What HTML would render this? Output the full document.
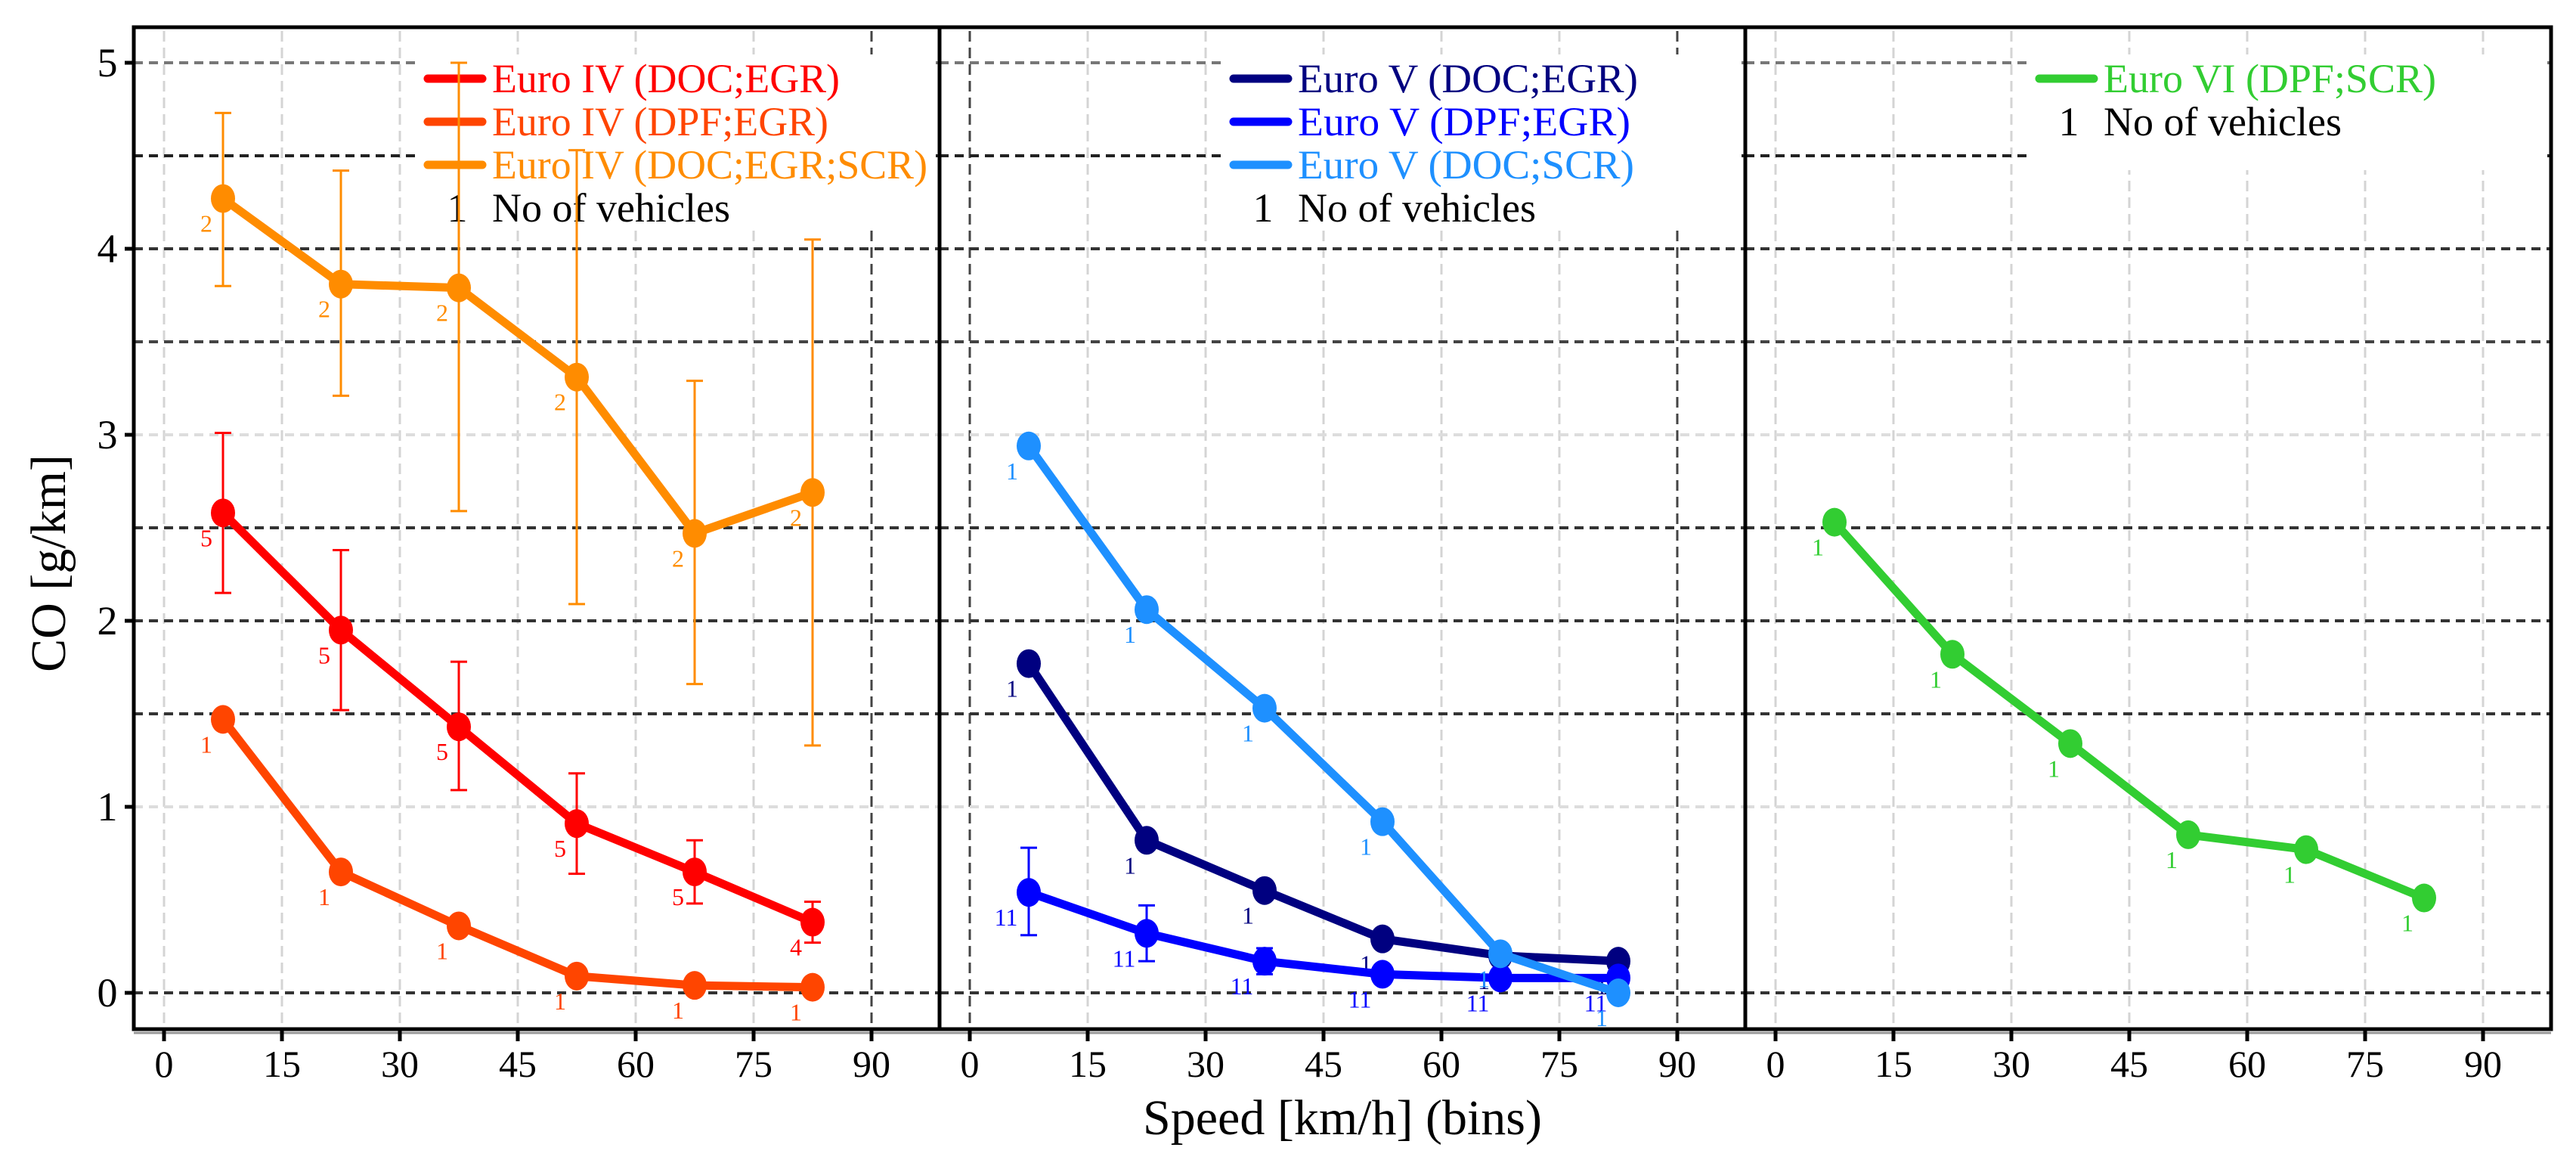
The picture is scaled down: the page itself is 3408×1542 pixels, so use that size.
<!DOCTYPE html>
<html><head><meta charset="utf-8"><style>
html,body{margin:0;padding:0;background:#fff;}
svg{display:block;font-family:"Liberation Serif",serif;}
</style></head><body>
<svg id="chart" width="3408" height="1542" viewBox="0 0 3408 1542" xmlns="http://www.w3.org/2000/svg">
<text x="0" y="0" transform="translate(86,745) rotate(-90)" font-size="66" text-anchor="middle">CO [g/km]</text>
<text x="1776" y="1500" font-size="66" text-anchor="middle">Speed [km/h] (bins)</text>
</svg>
<script>
const speedBins = [7.5, 22.5, 37.5, 52.5, 67.5, 82.5];
const xTicks = [0, 15, 30, 45, 60, 75, 90];
const yTicks = [0, 1, 2, 3, 4, 5];
const e4DocEgr = [2.58, 1.95, 1.43, 0.91, 0.65, 0.38];
const e4DocEgrLo = [2.15, 1.52, 1.09, 0.64, 0.48, 0.27];
const e4DocEgrHi = [3.01, 2.38, 1.78, 1.18, 0.82, 0.49];
const e4DocEgrN = [5, 5, 5, 5, 5, 4];
const e4DpfEgr = [1.47, 0.65, 0.36, 0.09, 0.04, 0.03];
const e4DpfEgrN = [1, 1, 1, 1, 1, 1];
const e4Scr = [4.27, 3.81, 3.79, 3.31, 2.47, 2.69];
const e4ScrLo = [3.80, 3.21, 2.59, 2.09, 1.66, 1.33];
const e4ScrHi = [4.73, 4.42, 5.00, 4.53, 3.29, 4.05];
const e4ScrN = [2, 2, 2, 2, 2, 2];
const e5DocEgr = [1.77, 0.82, 0.55, 0.29, 0.20, 0.17];
const e5DocEgrN = [1, 1, 1, 1, 1, 1];
const e5DpfEgr = [0.54, 0.32, 0.17, 0.10, 0.08, 0.08];
const e5DpfEgrLo = [0.31, 0.17, 0.10, 0.06, 0.05, 0.05];
const e5DpfEgrHi = [0.78, 0.47, 0.24, 0.14, 0.11, 0.11];
const e5DpfEgrN = [11, 11, 11, 11, 11, 11];
const e5DocScr = [2.94, 2.06, 1.53, 0.92, 0.21, 0.00];
const e5DocScrN = [1, 1, 1, 1, 1, 1];
const e6 = [2.53, 1.82, 1.34, 0.85, 0.77, 0.51];
const e6N = [1, 1, 1, 1, 1, 1];

const svg = document.getElementById('chart');
const NS = 'http://www.w3.org/2000/svg';
const panelLefts = [177, 1243, 2309];
const panelW = 1066, plotTop = 36, plotBottom = 1361;
function xs(p, v){ return panelLefts[p] + 40 + v * 10.4; }
function ys(v){ return 1313 - v * 246; }
function mk(tag, attrs, parent){ const e = document.createElementNS(NS, tag); for (const k in attrs) e.setAttribute(k, attrs[k]); (parent||svg).appendChild(e); return e; }

// grid
const hLevels = [0, 1, 1.5, 2, 2.5, 3, 3.5, 4, 4.5, 5];
const hStyle = {0:'#333',1:'#ddd',1.5:'#333',2:'#333',2.5:'#333',3:'#ddd',3.5:'#444',4:'#333',4.5:'#222',5:'#777'};
for (let p = 0; p < 3; p++) {
  for (const t of xTicks) {
    const dark = (p < 2 && t === 90) || (p === 1 && t === 0);
    const g = mk('line', {x1: xs(p,t), x2: xs(p,t), y1: plotTop+5, y2: plotBottom, stroke: dark ? '#444' : '#d4d4d4', 'stroke-width': 3, 'stroke-dasharray': '14 8'});
    
    
  }
  for (const h of hLevels) {
    const g = mk('line', {x1: panelLefts[p], x2: panelLefts[p]+panelW, y1: ys(h), y2: ys(h), stroke: hStyle[h], 'stroke-width': 4, 'stroke-dasharray': '12 8'});
    
    
  }
}

// legends
const legends = [
  {p:0, items:[['Euro IV (DOC;EGR)','#ff0000',460],['Euro IV (DPF;EGR)','#ff4500',445],['Euro IV (DOC;EGR;SCR)','#ff8c00',576]], h:300},
  {p:1, items:[['Euro V (DOC;EGR)','#000080',450],['Euro V (DPF;EGR)','#0000ff',440],['Euro V (DOC;SCR)','#1e90ff',445]], h:300},
  {p:2, items:[['Euro VI (DPF;SCR)','#32cd32',440]], h:225}
];
for (const L of legends) {
  const lx = panelLefts[L.p];
  const box = mk('rect', {x: lx+380, y: 72, width: panelW-385, height: L.h-72, fill: '#fff'});
  
  
  L.items.forEach((it, i) => {
    const cy = 104 + i*57;
    const k = mk('line', {x1: lx+389, x2: lx+461, y1: cy, y2: cy, stroke: it[1], 'stroke-width': 11, 'stroke-linecap': 'round'});
    
    
    const t = mk('text', {x: lx+474, y: cy+18, fill: it[1], 'font-size': 54, textLength: it[2], lengthAdjust: 'spacingAndGlyphs'});
    t.textContent = it[0];
    
    
  });
  const cy = 104 + L.items.length*57;
  const one = mk('text', {x: lx+428, y: cy+18, 'font-size': 54, 'text-anchor': 'middle'});
  one.textContent = '1';
  
  
  const nv = mk('text', {x: lx+474, y: cy+18, 'font-size': 54, textLength: 315, lengthAdjust: 'spacingAndGlyphs'});
  nv.textContent = 'No of vehicles';
  
  
}

// series
function series(p, vals, color, counts, lo, hi, name) {
  if (lo) {
    vals.forEach((v, i) => {
      const x = xs(p, speedBins[i]);
      const e = mk('path', {d: `M${x-11},${ys(lo[i])}H${x+11}M${x},${ys(lo[i])}V${ys(hi[i])}M${x-11},${ys(hi[i])}H${x+11}`, stroke: color, 'stroke-width': 3, fill: 'none'});
      
      
    });
  }
  const d = vals.map((v, i) => (i ? 'L' : 'M') + xs(p, speedBins[i]) + ',' + ys(v)).join('');
  const ln = mk('path', {d: d, stroke: color, 'stroke-width': 11, fill: 'none', 'stroke-linejoin': 'round'});
  
  
  vals.forEach((v, i) => {
    const c = mk('ellipse', {cx: xs(p, speedBins[i]), cy: ys(v), rx: 16, ry: 19, fill: color});
    
    
    const t = mk('text', {x: xs(p, speedBins[i]) - (counts[i] > 9 ? 30 : 22), y: ys(v) + 44, fill: color, 'font-size': 32, 'text-anchor': 'middle'});
    t.textContent = counts[i];
    
    
  });
}
series(0, e4DpfEgr, '#ff4500', e4DpfEgrN, null, null, 'euro4-dpf-egr');
series(0, e4DocEgr, '#ff0000', e4DocEgrN, e4DocEgrLo, e4DocEgrHi, 'euro4-doc-egr');
series(0, e4Scr, '#ff8c00', e4ScrN, e4ScrLo, e4ScrHi, 'euro4-doc-egr-scr');
series(1, e5DocEgr, '#000080', e5DocEgrN, null, null, 'euro5-doc-egr');
series(1, e5DpfEgr, '#0000ff', e5DpfEgrN, e5DpfEgrLo, e5DpfEgrHi, 'euro5-dpf-egr');
series(1, e5DocScr, '#1e90ff', e5DocScrN, null, null, 'euro5-doc-scr');
series(2, e6, '#32cd32', e6N, null, null, 'euro6-dpf-scr');

// frames, ticks
for (let p = 0; p < 3; p++) {
  const lx = panelLefts[p];
  const f = mk('rect', {x: lx, y: plotTop, width: panelW, height: plotBottom-plotTop, fill: 'none', stroke: '#000', 'stroke-width': 5});
  
  
  const sh = mk('line', {x1: lx, x2: lx+panelW, y1: plotBottom+5, y2: plotBottom+5, stroke: '#999', 'stroke-width': 3});
  
  
  for (const t of xTicks) {
    const tk = mk('line', {x1: xs(p,t), x2: xs(p,t), y1: plotBottom, y2: plotBottom+16, stroke: '#000', 'stroke-width': 5});
    
    
    const tl = mk('text', {x: xs(p,t), y: 1424, 'font-size': 50, 'text-anchor': 'middle'});
    tl.textContent = t;
    
    
  }
}
for (const t of yTicks) {
  const tk = mk('line', {x1: 165, x2: 177, y1: ys(t), y2: ys(t), stroke: '#000', 'stroke-width': 5});
  
  
  const tl = mk('text', {x: 142, y: ys(t) + 18, 'font-size': 54, 'text-anchor': 'middle'});
  tl.textContent = t;
  
  
}
</script>
</body></html>
